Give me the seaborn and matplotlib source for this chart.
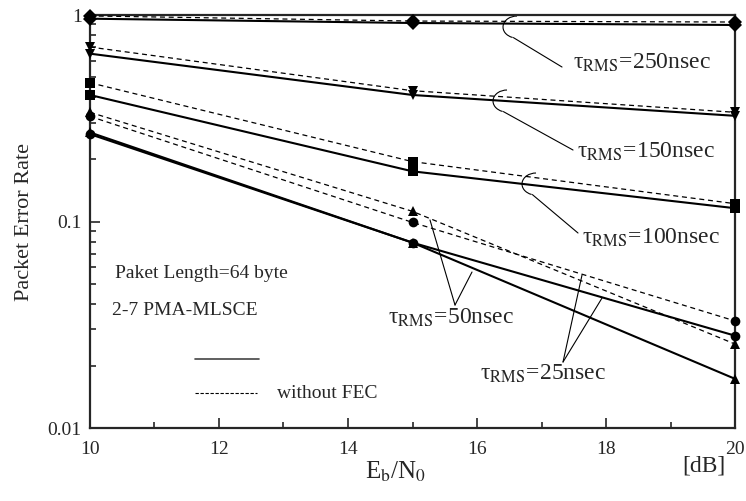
import numpy as np
import pandas as pd
import seaborn as sns
import matplotlib.pyplot as plt
from matplotlib.patches import Arc

# Eb/N0 points [dB]
ebn0 = [10, 15, 20]

# packet error rate, with FEC (solid) and without FEC (dashed)
per_250_fec = [0.96, 0.915, 0.895]
per_250_nofec = [0.99, 0.935, 0.925]
per_150_fec = [0.65, 0.41, 0.325]
per_150_nofec = [0.70, 0.43, 0.338]
per_100_fec = [0.41, 0.175, 0.116]
per_100_nofec = [0.47, 0.195, 0.122]
per_50_fec = [0.265, 0.079, 0.028]
per_50_nofec = [0.323, 0.099, 0.033]
per_25_fec = [0.27, 0.079, 0.0173]
per_25_nofec = [0.338, 0.112, 0.0255]

delays = ["250", "150", "100", "50", "25"]
markers = {"250": "D", "150": "v", "100": "s", "50": "o", "25": "^"}
fec_vals = [per_250_fec, per_150_fec, per_100_fec, per_50_fec, per_25_fec]
nofec_vals = [per_250_nofec, per_150_nofec, per_100_nofec, per_50_nofec, per_25_nofec]

sns.set_style("ticks")
plt.rcParams["font.family"] = ["Liberation Serif", "DejaVu Serif"]
plt.rcParams["mathtext.fontset"] = "stix"
plt.rcParams["font.size"] = 14

fig = plt.figure(figsize=(7.46, 5.01), dpi=100)
ax = fig.add_axes([0.1206, 0.1457, 0.8647, 0.8243])

for d, fec, nofec in zip(delays, fec_vals, nofec_vals):
    df = pd.DataFrame({"x": ebn0, "fec": fec, "nofec": nofec})
    sns.lineplot(data=df, x="x", y="nofec", ax=ax, color="black", lw=0.9,
                 linestyle=(0, (4, 3)), marker=markers[d], markersize=7,
                 markeredgewidth=0, clip_on=False, zorder=3)
    sns.lineplot(data=df, x="x", y="fec", ax=ax, color="black", lw=1.5,
                 marker=markers[d], markersize=7, markeredgewidth=0,
                 clip_on=False, zorder=3)

ax.set_yscale("log")
ax.set_xlim(10, 20)
ax.set_ylim(0.01, 1)
ax.set_xticks([10, 12, 14, 16, 18, 20])
ax.set_xticks([11, 13, 15, 17, 19], minor=True)
ax.set_yticks([0.01, 0.1, 1])
ax.set_yticklabels(["0.01", "0.1", "1"])
ax.tick_params(which="both", direction="in", top=False, right=False,
               labelsize=14, width=1.2, pad=6)
ax.tick_params(axis="x", which="major", pad=9)
ax.tick_params(which="major", length=7)
ax.tick_params(which="minor", length=4)
for s in ax.spines.values():
    s.set_linewidth(1.6)

ax.set_xlabel("")
ax.set_ylabel("Packet Error Rate", fontsize=16, labelpad=10)
fig.text(0.53, 0.058, r"E$_\mathrm{b}$/N$_0$", fontsize=18, ha="center", va="center")
fig.text(0.943, 0.07, "[dB]", fontsize=17, ha="center", va="center")


def px(x, y):
    # reference-pixel position -> axes fraction
    return (x - 90) / 645, (428 - y) / 413


def brace(cx, cy, lx, ly, tx, ty, label):
    ax0, ay0 = px(cx, cy)
    ax.add_patch(Arc((ax0, ay0), 28 / 645, 22 / 413, theta1=90, theta2=255,
                     transform=ax.transAxes, color="black", lw=0.8))
    sx, sy = px(cx - 3.6, cy + 10.6)
    ex, ey = px(lx, ly)
    ax.plot([sx, ex], [sy, ey], transform=ax.transAxes, color="black", lw=0.8)
    t0, t1 = px(tx, ty)
    ax.text(t0, t1, label, transform=ax.transAxes, fontsize=17, va="center")


brace(517, 27, 562, 67, 573, 63, r"τ$_\mathrm{RMS}$=250nsec")
brace(507, 101, 573, 150, 577, 152, r"τ$_\mathrm{RMS}$=150nsec")
brace(536, 184, 578, 233, 582, 238, r"τ$_\mathrm{RMS}$=100nsec")


def fork(a, b, v, tx, ty, label):
    for p in (a, b):
        x0, y0 = px(*p)
        x1, y1 = px(*v)
        ax.plot([x0, x1], [y0, y1], transform=ax.transAxes, color="black", lw=0.8)
    t0, t1 = px(tx, ty)
    ax.text(t0, t1, label, transform=ax.transAxes, fontsize=17, ha="center", va="center")


fork((430, 220), (472, 272), (455, 305), 451, 318, r"τ$_\mathrm{RMS}$=50nsec")
fork((582, 275), (602, 298), (563, 362), 543, 374, r"τ$_\mathrm{RMS}$=25nsec")

ax.text(*px(115, 273), "Paket Length=64 byte", transform=ax.transAxes, fontsize=14, va="center")
ax.text(*px(112, 310), "2-7 PMA-MLSCE", transform=ax.transAxes, fontsize=14, va="center")

l0, l1 = px(195, 359), px(259, 359)
ax.plot([l0[0], l1[0]], [l0[1], l1[1]], transform=ax.transAxes, color="#444444", lw=1.2)
d0, d1 = px(195, 393), px(257, 393)
ax.plot([d0[0], d1[0]], [d0[1], d1[1]], transform=ax.transAxes, color="black", lw=0.8,
        linestyle=(0, (3, 1.5)))
ax.text(*px(277, 393), "without FEC", transform=ax.transAxes, fontsize=14, va="center")

fig.savefig("out.png", dpi=100)
